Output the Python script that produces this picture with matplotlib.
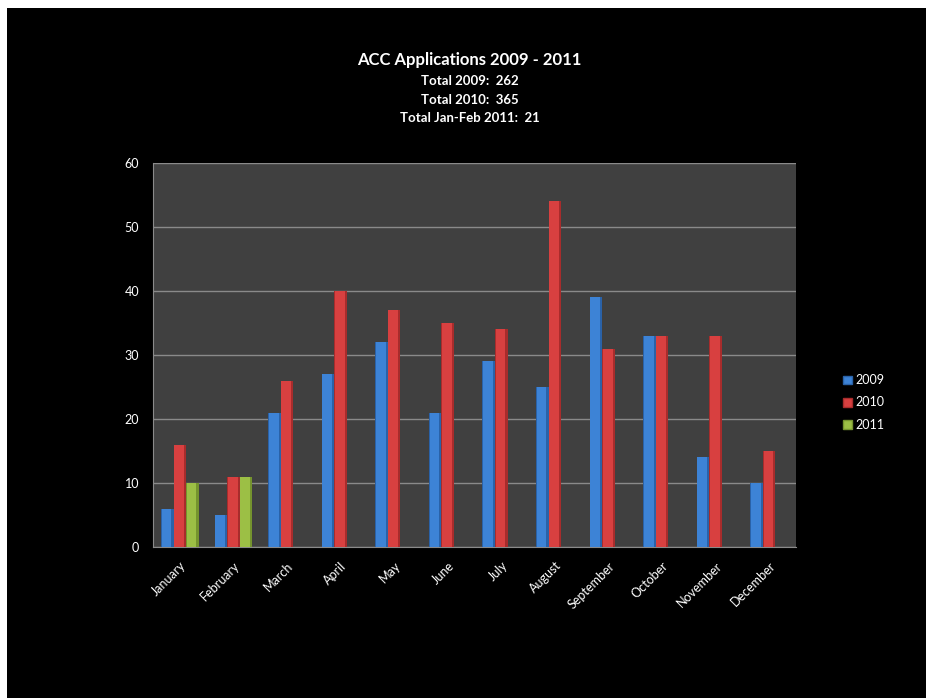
import numpy as np
import matplotlib.pyplot as plt
from matplotlib.patches import Rectangle, Patch

plt.rcParams['font.family'] = ['Lato', 'DejaVu Sans']

# data
months = ['January', 'February', 'March', 'April', 'May', 'June', 'July',
          'August', 'September', 'October', 'November', 'December']
apps_2009 = [6, 5, 21, 27, 32, 21, 29, 25, 39, 33, 14, 10]
apps_2010 = [16, 11, 26, 40, 37, 35, 34, 54, 31, 33, 33, 15]
apps_2011 = [10, 11]
series = ['2009', '2010', '2011']

# colours: (light, dark) per series
cols = {'2009': ('#3d83d6', '#2a62a8'),
        '2010': ('#d84040', '#a82c2c'),
        '2011': ('#9cbf45', '#75942e')}

fig = plt.figure(figsize=(9.26, 6.98), dpi=100, facecolor='white')
fig.patches.append(Rectangle((7 / 926, 0), 1, 1 - 8 / 698, transform=fig.transFigure,
                             facecolor='black', edgecolor='none', zorder=-10))

ax = fig.add_axes([153 / 926, 1 - 547 / 698, 643 / 926, 384 / 698])
ax.set_facecolor('#404040')

x = np.arange(len(months))
w = 0.234
data = [apps_2009, apps_2010, apps_2011]
for i, (name, vals) in enumerate(zip(series, data)):
    xs = x[:len(vals)] + (i - 1) * w
    light, dark = cols[name]
    ax.bar(xs, vals, width=w, color=dark, zorder=3)
    ax.bar(xs - w * 0.06, vals, width=w * 0.78, color=light, zorder=4)

ax.set_xlim(-0.5, len(months) - 0.5)
ax.set_ylim(0, 60)
ax.set_yticks(range(0, 61, 10))
ax.yaxis.grid(True, color='#8a8a8a', linewidth=1, zorder=1)
ax.set_axisbelow(True)

for s in ['top', 'right']:
    ax.spines[s].set_visible(False)
for s in ['left', 'bottom']:
    ax.spines[s].set_color('#8a8a8a')
ax.tick_params(axis='y', colors='white', labelsize=9, length=0, pad=10)
ax.tick_params(axis='x', colors='white', labelsize=9, length=0, pad=9)
ax.set_xticks(x)
ax.set_xticklabels(months, rotation=45, ha='right', rotation_mode='anchor')

fig.text(0.507, 1 - 60 / 698, 'ACC Applications 2009 - 2011', color='white',
         fontsize=12, fontweight='bold', ha='center', va='center')
subs = ['Total 2009:  262', 'Total 2010:  365', 'Total Jan-Feb 2011:  21']
for k, t in enumerate(subs):
    fig.text(0.507, 1 - (81 + 18.5 * k) / 698, t, color='white',
             fontsize=9.5, fontweight='bold', ha='center', va='center')

handles = [Patch(facecolor=cols[s][0], edgecolor=cols[s][1]) for s in series]
leg = fig.legend(handles, series, loc='upper left', bbox_to_anchor=(832 / 926, 1 - 363 / 698),
                 frameon=False, fontsize=9, labelcolor='white', handlelength=0.7,
                 handleheight=0.7, handletextpad=0.3, labelspacing=0.82)

fig.savefig('out.png', dpi=100, facecolor=fig.get_facecolor())
